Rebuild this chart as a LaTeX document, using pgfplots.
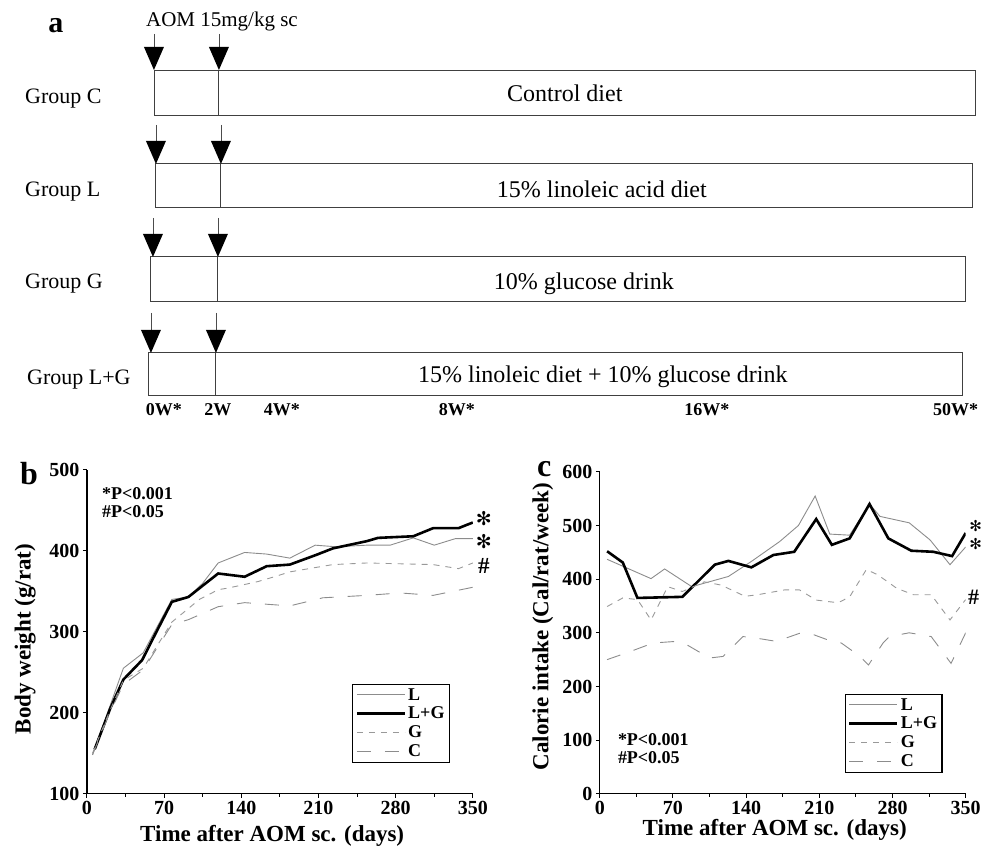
\documentclass[border=0pt]{standalone}
\usepackage{fontspec}
\setmainfont{Liberation Serif}
\newfontfamily\djv{DejaVu Sans}
\usepackage{pgfplots}
\pgfplotsset{compat=1.18}
\newcommand{\fs}[1]{\fontsize{#1}{#1}\selectfont}

\pgfplotsset{
  panel/.style={
    scale only axis,
    xmin=0, xmax=350,
    axis x line*=bottom, axis y line*=left,
    axis line style={black, line width=1.2pt, -},
    xtick={0,70,...,350}, minor xtick={35,105,...,315},
    tick align=outside,
    major tick style={black, line width=1pt},
    minor tick style={black, line width=1pt},
    major tick length=4pt, minor tick length=3pt,
    tick label style={font=\fs{20}\bfseries},
    /pgf/number format/assume math mode=true,
    label style={font=\fs{23}\bfseries},
    legend cell align=left,
    legend style={font=\fontsize{18}{18}\selectfont\bfseries, draw=black, line width=1.2pt,
      inner xsep=3pt, inner ysep=2pt, row sep=1.5pt, anchor=north west},
    legend image code/.code={\draw[#1] (0pt,0pt) -- (48pt,0pt);},
  },
  sL/.style={black!45, line width=0.9pt},
  sLG/.style={black, line width=2.6pt},
  sG/.style={black!40, line width=0.9pt, dash pattern=on 6pt off 6pt},
  sC/.style={black!45, line width=0.9pt, dash pattern=on 14pt off 14pt},
}

\begin{document}
\begin{tikzpicture}
\begin{scope}[x=1pt,y=-1pt]
\useasboundingbox (0,0) rectangle (984,857);
% ---------------- panel a ----------------
\node[font=\fs{30}\bfseries, anchor=base] at (56,33) {a};
\node[font=\fs{21}, anchor=base west, inner sep=0pt] at (146,27) {AOM 15mg/kg sc};
\foreach \xa/\xb/\tp/\st/\lf/\rt/\bt in {154/219/70/34/154/976/115, 156/221/164/125/155/973/208, 153/218/257/218/150/966/302, 151/216/353/313/148/963/396}{
  \draw[black!75, line width=0.9pt] (\lf,\tp) rectangle (\rt,\bt);
  \draw[black!75, line width=0.9pt] (\xb,\tp) -- (\xb,\bt);
  \foreach \xx in {\xa,\xb}{
    \draw[black!70, line width=0.7pt] (\xx,\st) -- (\xx,\tp-23);
    \fill[black] (\xx-10,\tp-23) -- (\xx+10,\tp-23) -- (\xx,\tp) -- cycle;
  }
}
\node[font=\fs{22}, anchor=base west, inner sep=0pt] at (25,104) {Group C};
\node[font=\fs{22}, anchor=base west, inner sep=0pt] at (25,197) {Group L};
\node[font=\fs{22}, anchor=base west, inner sep=0pt] at (25,289) {Group G};
\node[font=\fs{22}, anchor=base west, inner sep=0pt] at (27,385) {Group L+G};
\node[font=\fs{24}, anchor=base] at (565,102) {Control diet};
\node[font=\fs{24}, anchor=base] at (602,198) {15\% linoleic acid diet};
\node[font=\fs{24}, anchor=base] at (584,290) {10\% glucose drink};
\node[font=\fs{24}, anchor=base] at (603,383) {15\% linoleic diet + 10\% glucose drink};
\foreach \xx/\tx in {164/0W*, 218/2W, 282/4W*, 457/8W*, 707/16W*, 956/50W*}{
  \node[font=\fs{18}\bfseries, anchor=base] at (\xx,416) {\tx};
}
% ---------------- panel labels & annotations ----------------
\node[font=\fs{32}\bfseries, anchor=base west, inner sep=0pt] at (20,485) {b};
\node[font=\fs{32}\bfseries, anchor=base west, inner sep=0pt] at (537,477) {c};
\node[font=\fs{18}\bfseries, anchor=base west, inner sep=0pt] at (102,500) {*P<0.001};
\node[font=\fs{18}\bfseries, anchor=base west, inner sep=0pt] at (102,518) {\#P<0.05};
\node[font=\fs{18}\bfseries, anchor=base west, inner sep=0pt] at (618,746) {*P<0.001};
\node[font=\fs{18}\bfseries, anchor=base west, inner sep=0pt] at (618,764) {\#P<0.05};
\node[font=\djv\fs{19}, anchor=center, inner sep=0pt] at (484,519) {✻};
\node[font=\djv\fs{19}, anchor=center, inner sep=0pt] at (484,542) {✻};
\node[font=\fs{23}\bfseries, anchor=base, inner sep=0pt] at (484,574) {\#};
\node[font=\djv\fs{15}, anchor=center, inner sep=0pt] at (976,526) {✻};
\node[font=\djv\fs{15}, anchor=center, inner sep=0pt] at (976,544) {✻};
\node[font=\fs{22}\bfseries, anchor=base, inner sep=0pt] at (974,605) {\#};
\end{scope}

% ---------------- panel b ----------------
\begin{axis}[panel, at={(87pt,-794pt)}, anchor=south west,
  width=386pt, height=324pt,
  ymin=100, ymax=500, ytick={100,200,...,500},
  xlabel={Time after AOM sc. (days)},
  ylabel={Body weight (g/rat)},
  xlabel style={at={(axis description cs:0.48,-0.13)}, anchor=center},
  ylabel style={at={(axis description cs:-0.16,0.478)}, anchor=center, rotate=0},
  legend style={at={(axis description cs:0.687,0.34)}},
]
\addplot[sL] coordinates {(5,148) (20,205) (33,255) (51,274) (77,340) (92,343) (105,360) (119,385) (143,398) (163,396) (184,391) (207,407) (226,405) (254,407) (275,407) (296,416) (315,407) (334,415) (350,415)};
\addlegendentry{L}
\addplot[sLG] coordinates {(7,155) (21,205) (33,241) (50,265) (63,300) (77,337) (92,343) (105,357) (119,372) (143,368) (163,381) (184,383) (208,395) (223,403) (254,412) (264,416) (296,418) (314,428) (337,428) (350,435)};
\addlegendentry{L+G}
\addplot[sG] coordinates {(5,150) (20,200) (33,240) (51,255) (77,312) (102,340) (119,352) (128,354) (155,362) (170,368) (184,374) (223,383) (254,385) (284,384) (314,383) (337,378) (350,385)};
\addlegendentry{G}
\addplot[sC] coordinates {(5,148) (20,198) (33,235) (51,253) (77,309) (92,315) (119,331) (143,336) (184,332) (214,342) (254,345) (284,348) (314,345) (350,355)};
\addlegendentry{C}
\end{axis}

% ---------------- panel c ----------------
\begin{axis}[panel, at={(600pt,-794pt)}, anchor=south west,
  width=366pt, height=322pt,
  ymin=0, ymax=600, ytick={0,100,...,600},
  xlabel={Time after AOM sc. (days)},
  ylabel={Calorie intake (Cal/rat/week)},
  xlabel style={at={(axis description cs:0.478,-0.112)}, anchor=center},
  ylabel style={at={(axis description cs:-0.156,0.519)}, anchor=center, rotate=0},
  legend style={at={(axis description cs:0.669,0.311)}},
]
\addplot[sL] coordinates {(7,437) (49,401) (62,419) (88,386) (123,405) (145,433) (172,470) (190,500) (206,555) (220,484) (239,482) (258,540) (268,517) (296,505) (316,473) (335,427) (350,460)};
\addlegendentry{L}
\addplot[sLG] coordinates {(7,452) (22,431) (36,365) (79,367) (110,427) (123,434) (145,422) (166,445) (186,451) (207,512) (222,464) (239,476) (258,540) (276,476) (298,453) (319,451) (337,443) (350,486)};
\addlegendentry{L+G}
\addplot[sG] coordinates {(7,349) (22,365) (36,362) (49,324) (65,386) (79,377) (100,395) (116,389) (139,368) (151,371) (177,380) (191,380) (207,361) (228,356) (239,367) (255,418) (266,408) (284,383) (300,371) (317,371) (335,324) (350,362)};
\addlegendentry{G}
\addplot[sC] coordinates {(7,250) (29,265) (51,281) (73,284) (83,278) (105,253) (118,256) (137,293) (150,290) (169,284) (191,299) (201,299) (222,284) (231,281) (249,256) (257,240) (271,281) (277,293) (296,300) (317,293) (336,243) (350,300)};
\addlegendentry{C}
\end{axis}
\end{tikzpicture}
\end{document}
